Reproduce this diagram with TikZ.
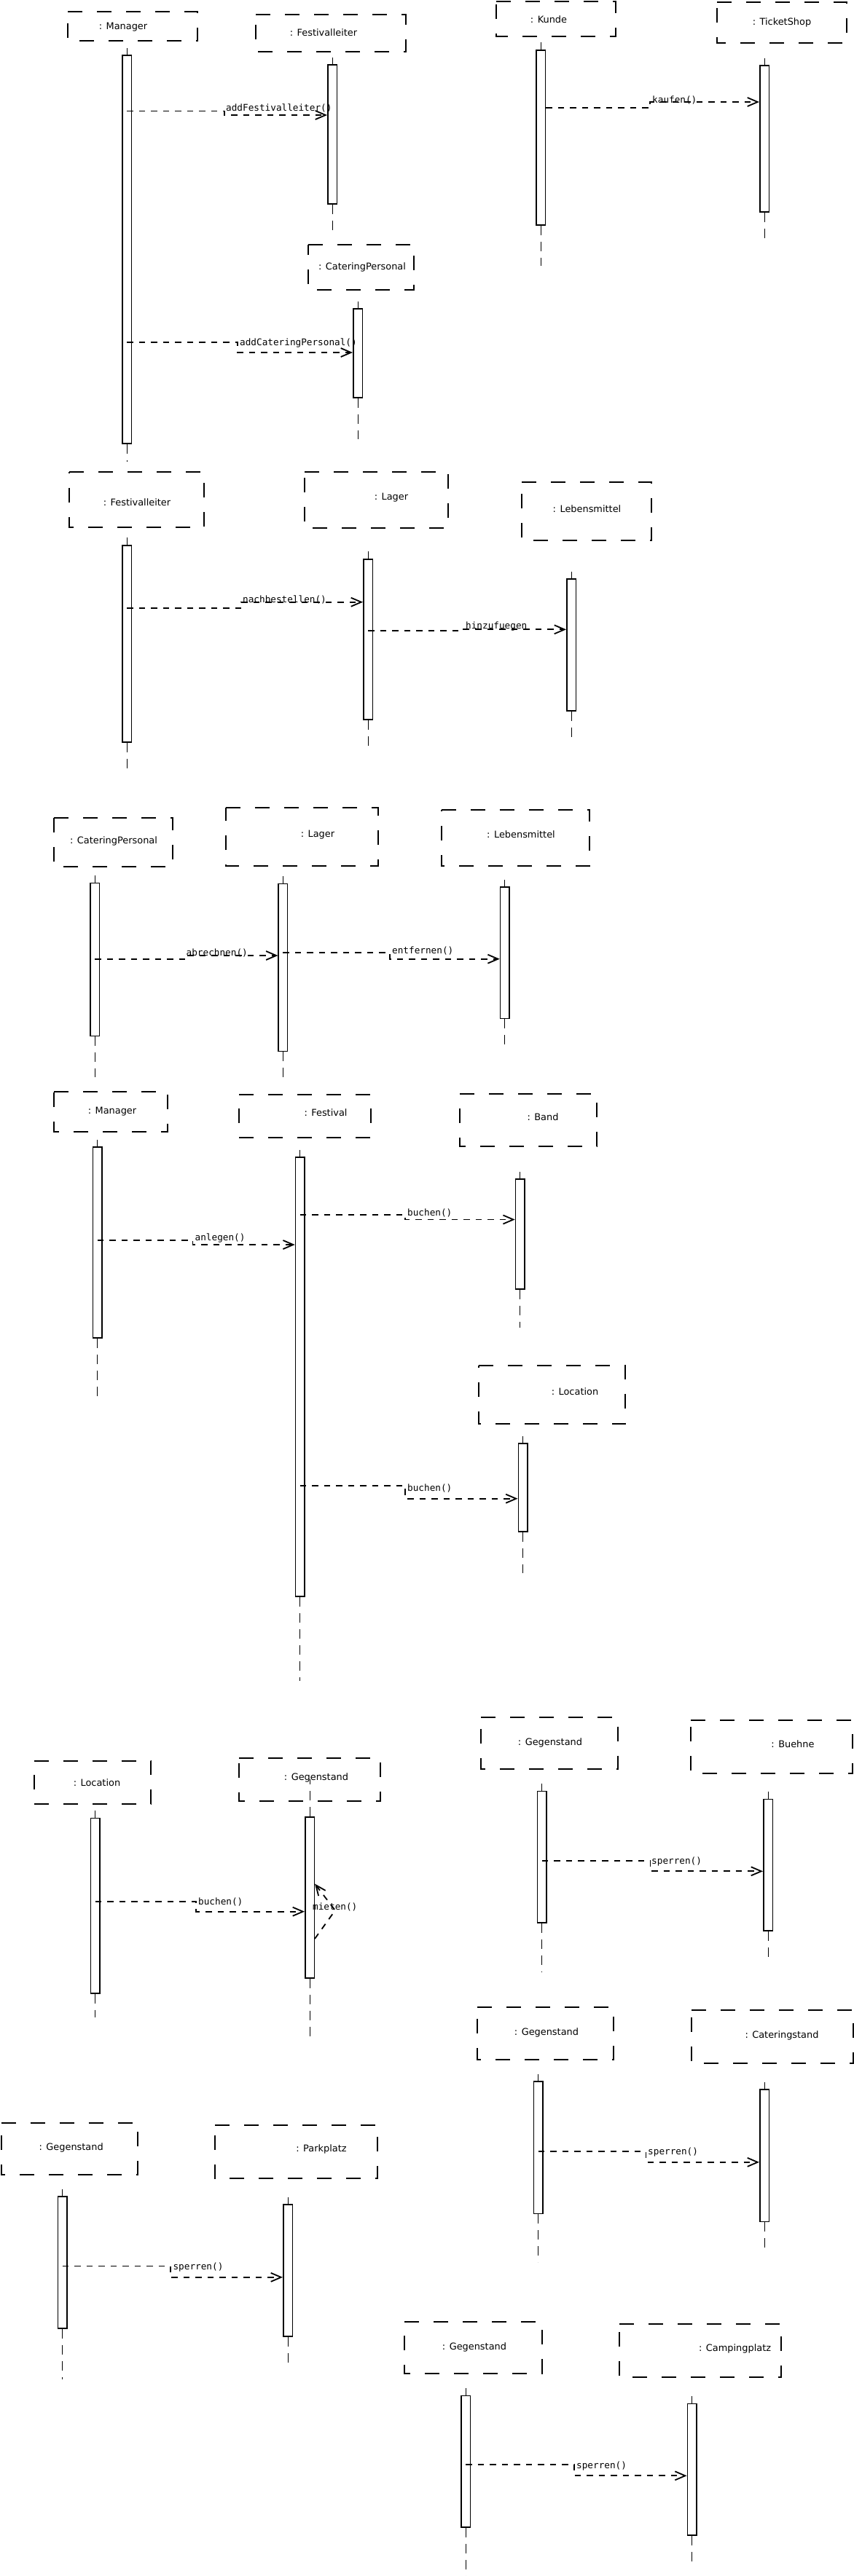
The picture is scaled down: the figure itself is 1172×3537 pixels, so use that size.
\documentclass[tikz,border=0pt]{standalone}
\usepackage{fontspec}
\newfontfamily\objfont{DejaVu Sans}
\newfontfamily\msgfont{DejaVu Sans Mono}
\usetikzlibrary{arrows.meta}
\tikzset{
  framebox/.style = {line width=2pt, dash pattern=on 20pt off 20pt},
  objname/.style  = {font={\objfont\fontsize{12.9pt}{15pt}\selectfont},
                     inner sep=0pt, anchor=base},
  actbar/.style   = {draw, fill=white, line width=1.5pt, minimum width=12.5pt,
                     inner sep=0pt, anchor=north},
  lifeline/.style = {line width=1pt, dash pattern=on 13pt off 9pt},
  msg/.style      = {line width=1.8pt, dash pattern=on 8.5pt off 8pt,
                     -{Straight Barb[length=14pt, width=12pt]}},
  msglbl/.style   = {font={\msgfont\fontsize{12.7pt}{15pt}\selectfont},
                     inner sep=0pt, anchor=base west}
}
% dashed object frame, drawn clockwise from the top left corner
\newcommand{\objframe}[4]{\draw[framebox] (#1,#2) -- (#3,#2) -- (#3,#4) -- (#1,#4) -- cycle;}

\begin{document}
\begin{tikzpicture}[x=1pt, y=-1pt]
  \useasboundingbox (0,0) rectangle (1172,3537);

  % ── Manager / Festivalleiter / CateringPersonal ──────────────────────────
  \objframe{93}{16}{271}{56}
  \node[objname] (mgr1) at (169,40.7) {: Manager};
  \objframe{351}{20}{557}{71}
  \node[objname] (fl1) at (444,49.7) {: Festivalleiter};
  \objframe{423}{336}{568}{398}
  \node[objname] (cp1) at (497,370.7) {: CateringPersonal};

  \node[actbar, minimum height=533pt] (mgr1Act) at (174,75) {};
  \node[actbar, minimum height=191pt] (fl1Act)  at (456,88) {};
  \node[actbar, minimum height=122pt] (cp1Act)  at (491,423) {};
  \draw[lifeline] (mgr1Act.north) -- ++(0,-9)  (mgr1Act.south) -- ++(0,24);
  \draw[lifeline] (fl1Act.north)  -- ++(0,-9)  (fl1Act.south)  -- ++(0,41);
  \draw[lifeline] (cp1Act.north)  -- ++(0,-9)  (cp1Act.south)  -- ++(0,56);

  \draw[msg] (mgr1Act.center |- 0,152.5) -- (308,152.5) |- (fl1Act.west |- 0,158);
  \node[msglbl] (addFl) at (310,152) {addFestivalleiter()};
  \draw[msg] (mgr1Act.center |- 0,470) -- (326,470) |- (cp1Act.west |- 0,484);
  \node[msglbl] (addCp) at (329,474.5) {addCateringPersonal()};

  % ── Kunde / TicketShop ────────────────────────────────────────────────────
  \objframe{681}{2}{845}{50}
  \node[objname] (kunde) at (753,31.4) {: Kunde};
  \objframe{984}{3}{1162}{59}
  \node[objname] (shop) at (1073,34.7) {: TicketShop};

  \node[actbar, minimum height=240pt] (kundeAct) at (742,68) {};
  \node[actbar, minimum height=201pt] (shopAct)  at (1049,89) {};
  \draw[lifeline] (kundeAct.north) -- ++(0,-10) (kundeAct.south) -- ++(0,55);
  \draw[lifeline] (shopAct.north)  -- ++(0,-9)  (shopAct.south)  -- ++(0,40);

  \draw[msg] (kundeAct.east |- 0,148) -- (892,148) |- (shopAct.west |- 0,140);
  \node[msglbl] (kaufen) at (895,141) {kaufen()};

  % ── Festivalleiter / Lager / Lebensmittel ────────────────────────────────
  \objframe{95}{648}{280}{724}
  \node[objname] (fl2) at (188,694.7) {: Festivalleiter};
  \objframe{418}{648}{615}{725}
  \node[objname] (lager1) at (537,686.4) {: Lager};
  \objframe{716}{662}{894}{742}
  \node[objname] (lm1) at (805.5,703.7) {: Lebensmittel};

  \node[actbar, minimum height=270pt] (fl2Act)    at (174,748) {};
  \node[actbar, minimum height=220pt] (lager1Act) at (505,767) {};
  \node[actbar, minimum height=181pt] (lm1Act)    at (784,794) {};
  \draw[lifeline] (fl2Act.north)    -- ++(0,-10) (fl2Act.south)    -- ++(0,39);
  \draw[lifeline] (lager1Act.north) -- ++(0,-10) (lager1Act.south) -- ++(0,40);
  \draw[lifeline] (lm1Act.north)    -- ++(0,-9)  (lm1Act.south)    -- ++(0,38);

  \draw[msg] (fl2Act.center |- 0,834.7) -- (331,834.7) |- (lager1Act.west |- 0,826.7);
  \node[msglbl] (nachb) at (333,827.8) {nachbestellen()};
  \draw[msg] (lager1Act.center |- 0,865.7) -- (636,865.7) |- (lm1Act.west |- 0,864.3);
  \node[msglbl] (hinzu) at (639,863.5) {hinzufuegen};

  % ── CateringPersonal / Lager / Lebensmittel ──────────────────────────────
  \objframe{74}{1123}{237}{1190}
  \node[objname] (cp2) at (156,1158.7) {: CateringPersonal};
  \objframe{309.5}{1109}{518.5}{1189}
  \node[objname] (lager2) at (436,1149.7) {: Lager};
  \objframe{605.5}{1111.5}{809}{1189}
  \node[objname] (lm2) at (715,1150.4) {: Lebensmittel};

  \node[actbar, minimum height=210pt] (cp2Act)    at (130,1211.7) {};
  \node[actbar, minimum height=230pt] (lager2Act) at (388.4,1212.7) {};
  \node[actbar, minimum height=180.7pt] (lm2Act)  at (692.7,1217) {};
  \draw[lifeline] (cp2Act.north)    -- ++(0,-10) (cp2Act.south)    -- ++(0,56);
  \draw[lifeline] (lager2Act.north) -- ++(0,-10) (lager2Act.south) -- ++(0,40);
  \draw[lifeline] (lm2Act.north)    -- ++(0,-9)  (lm2Act.south)    -- ++(0,38);

  \draw[msg] (cp2Act.center |- 0,1316.7) -- (254,1316.7) |- (lager2Act.west |- 0,1312);
  \node[msglbl] (abrech) at (255.5,1312.5) {abrechnen()};
  \draw[msg] (lager2Act.center |- 0,1308) -- (535,1308) |- (lm2Act.west |- 0,1316.7);
  \node[msglbl] (entf) at (538,1309.5) {entfernen()};

  % ── Manager / Festival / Band / Location ─────────────────────────────────
  \objframe{74.4}{1499}{230}{1554}
  \node[objname] (mgr2) at (154,1529.4) {: Manager};
  \objframe{328}{1503}{508.6}{1562}
  \node[objname] (fest) at (447,1532.7) {: Festival};
  \objframe{631}{1502}{819}{1574}
  \node[objname] (band) at (745,1538.7) {: Band};
  \objframe{657}{1874.5}{858}{1955}
  \node[objname] (loc1) at (789,1915.7) {: Location};

  \node[actbar, minimum height=262pt] (mgr2Act) at (133.7,1574) {};
  \node[actbar, minimum height=603pt] (festAct) at (411.7,1588) {};
  \node[actbar, minimum height=151pt] (bandAct) at (713.7,1618) {};
  \node[actbar, minimum height=121pt] (loc1Act) at (717.5,1981) {};
  \draw[lifeline] (mgr2Act.north) -- ++(0,-9.5) (mgr2Act.south) -- ++(0,84);
  \draw[lifeline] (festAct.north) -- ++(0,-9)   (festAct.south) -- ++(0,115);
  \draw[lifeline] (bandAct.north) -- ++(0,-9)   (bandAct.south) -- ++(0,52);
  \draw[lifeline] (loc1Act.north) -- ++(0,-9)   (loc1Act.south) -- ++(0,56.5);

  \draw[msg] (festAct.center |- 0,1668) -- (556,1668) |- (bandAct.west |- 0,1674.5);
  \node[msglbl] (buchenBand) at (559,1669) {buchen()};
  \draw[msg] (mgr2Act.center |- 0,1703) -- (264.5,1703) |- (festAct.west |- 0,1709);
  \node[msglbl] (anlegen) at (267.5,1703.5) {anlegen()};
  \draw[msg] (festAct.center |- 0,2040) -- (556,2040) |- (loc1Act.west |- 0,2057.7);
  \node[msglbl] (buchenLoc) at (559,2047) {buchen()};

  % ── Location / Gegenstand (mieten) ───────────────────────────────────────
  \objframe{46.6}{2417.7}{207.4}{2476.7}
  \node[objname] (loc2) at (133,2452.4) {: Location};
  \objframe{328}{2413.7}{522}{2473.3}
  \node[objname] (geg1) at (434,2444.7) {: Gegenstand};

  \node[actbar, minimum height=240.3pt] (loc2Act) at (130.7,2495.7) {};
  \node[actbar, minimum height=221pt]   (geg1Act) at (425,2494) {};
  \draw[lifeline] (loc2Act.north) -- ++(0,-9.7) (loc2Act.south) -- ++(0,32);
  \draw[lifeline] (geg1Act.north) -- ++(0,-51)  (geg1Act.south) -- ++(0,85);

  \draw[msg] (loc2Act.center |- 0,2611) -- (269,2611) |- (geg1Act.west |- 0,2624.7);
  \node[msglbl] (buchenGeg) at (272,2615.5) {buchen()};
  \draw[msg] (geg1Act.east |- 0,2662) -- (460,2623) -- (geg1Act.east |- 0,2586.5);
  \node[msglbl] (mieten) at (429,2622.5) {mieten()};

  % ── Gegenstand / Buehne ──────────────────────────────────────────────────
  \objframe{660.4}{2357.7}{847.5}{2428.7}
  \node[objname] (geg2) at (755,2396.7) {: Gegenstand};
  \objframe{948.3}{2362.3}{1170}{2435}
  \node[objname] (buehne) at (1088,2399) {: Buehne};

  \node[actbar, minimum height=180.3pt] (geg2Act)   at (743.8,2458.7) {};
  \node[actbar, minimum height=180.3pt] (buehneAct) at (1054,2469.7) {};
  \draw[lifeline] (geg2Act.north)   -- ++(0,-9.7) (geg2Act.south)   -- ++(0,67);
  \draw[lifeline] (buehneAct.north) -- ++(0,-9.7) (buehneAct.south) -- ++(0,40);

  \draw[msg] (geg2Act.center |- 0,2554.7) -- (892.5,2554.7) |- (buehneAct.west |- 0,2569.3);
  \node[msglbl] (sperrenB) at (894,2559.5) {sperren()};

  % ── Gegenstand / Cateringstand ───────────────────────────────────────────
  \objframe{655}{2755.8}{841.5}{2827.5}
  \node[objname] (geg3) at (750,2794.7) {: Gegenstand};
  \objframe{949}{2759.5}{1170.5}{2833}
  \node[objname] (catstand) at (1073,2798.7) {: Cateringstand};

  \node[actbar, minimum height=181.7pt] (geg3Act)     at (738.5,2857) {};
  \node[actbar, minimum height=181.5pt] (catstandAct) at (1049,2868) {};
  \draw[lifeline] (geg3Act.north)     -- ++(0,-9) (geg3Act.south)     -- ++(0,66);
  \draw[lifeline] (catstandAct.north) -- ++(0,-9) (catstandAct.south) -- ++(0,40);

  \draw[msg] (geg3Act.center |- 0,2954) -- (886.5,2954) |- (catstandAct.west |- 0,2968.8);
  \node[msglbl] (sperrenC) at (889,2958.5) {sperren()};

  % ── Gegenstand / Parkplatz ───────────────────────────────────────────────
  \objframe{1.5}{2914.5}{188.6}{2986}
  \node[objname] (geg4) at (97.7,2952.7) {: Gegenstand};
  \objframe{295}{2917.8}{518.4}{2991.4}
  \node[objname] (park) at (441,2954.7) {: Parkplatz};

  \node[actbar, minimum height=181pt] (geg4Act) at (85.6,3015) {};
  \node[actbar, minimum height=181pt] (parkAct) at (395,3026.4) {};
  \draw[lifeline] (geg4Act.north) -- ++(0,-9.4) (geg4Act.south) -- ++(0,69);
  \draw[lifeline] (parkAct.north) -- ++(0,-9.7) (parkAct.south) -- ++(0,40);

  \draw[msg] (geg4Act.center |- 0,3111.5) -- (233.7,3111.5) |- (parkAct.west |- 0,3126.8);
  \node[msglbl] (sperrenP) at (237.4,3116.5) {sperren()};

  % ── Gegenstand / Campingplatz ────────────────────────────────────────────
  \objframe{555}{3187.7}{743.5}{3259}
  \node[objname] (geg5) at (651,3226.4) {: Gegenstand};
  \objframe{850}{3190.7}{1072.4}{3264}
  \node[objname] (camp) at (1008.6,3228) {: Campingplatz};

  \node[actbar, minimum height=180.3pt] (geg5Act) at (639,3288.7) {};
  \node[actbar, minimum height=180.3pt] (campAct) at (949.6,3299.7) {};
  \draw[lifeline] (geg5Act.north) -- ++(0,-9.7) (geg5Act.south) -- ++(0,66);
  \draw[lifeline] (campAct.north) -- ++(0,-9.7) (campAct.south) -- ++(0,40);

  \draw[msg] (geg5Act.center |- 0,3384) -- (788,3384) |- (campAct.west |- 0,3399.3);
  \node[msglbl] (sperrenCp) at (791,3389.5) {sperren()};

\end{tikzpicture}
\end{document}
